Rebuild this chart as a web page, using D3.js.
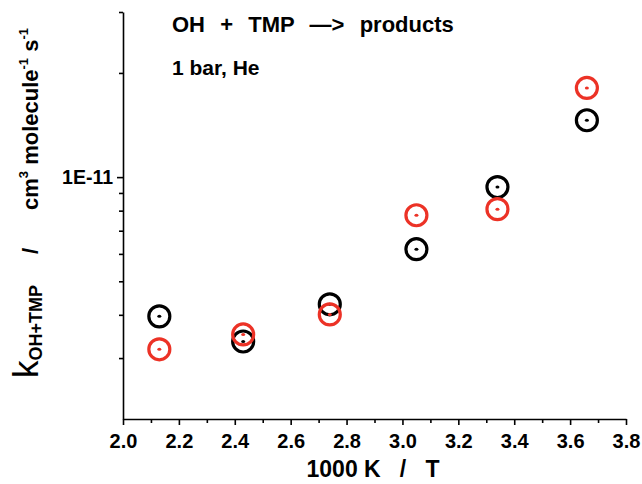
<!DOCTYPE html>
<html><head><meta charset="utf-8">
<script src="https://cdn.jsdelivr.net/npm/d3@7"></script>
<style>body{margin:0;background:#fff;} text{font-family:Arial,"Liberation Sans",sans-serif;}</style>
</head><body>
<svg id="c" width="642" height="484"></svg>
<script>
// Data
const xValues = [2.13, 2.43, 2.74, 3.05, 3.34, 3.66];
const blackSeries = [3.96e-12, 3.35e-12, 4.29e-12, 6.19e-12, 9.36e-12, 1.46e-11];
const redSeries   = [3.18e-12, 3.51e-12, 4.01e-12, 7.76e-12, 8.08e-12, 1.81e-11];
const xTickLabels = ["2.0","2.2","2.4","2.6","2.8","3.0","3.2","3.4","3.6","3.8"];
const yTickLabels = ["1E-11"];
const yMinorTicks = [3e-12,4e-12,5e-12,6e-12,7e-12,8e-12,9e-12,2e-11,3e-11];
const titleLines = ["OH  +  TMP  \u2014>  products", "1 bar, He"];

const svg = d3.select("#c");
const x = d3.scaleLinear().domain([2.0, 3.8]).range([123, 626]);
const y = d3.scaleLog().domain([2e-12, 3e-11]).range([419, 12]);

// X axis
const xMajor = xTickLabels.map(Number);
const xMinor = d3.range(2.1, 3.8, 0.2);
const gx = svg.append("g").attr("transform", "translate(0,419)");
gx.call(d3.axisBottom(x).tickValues(xMajor).tickFormat((d,i)=>xTickLabels[i]).tickSize(6).tickSizeOuter(0));
gx.append("g").call(d3.axisBottom(x).tickValues(xMinor).tickFormat("").tickSize(4).tickSizeOuter(0))
  .select(".domain").remove();
gx.selectAll("path,line").attr("stroke","#000").attr("stroke-width",1.6);
gx.selectAll("text").attr("font-weight","bold").attr("fill","#000").attr("dy","0.98em")
  .style("font-size","20px");

// Y axis
const gy = svg.append("g").attr("transform", "translate(123,0)");
gy.call(d3.axisLeft(y).tickValues([1e-11]).tickFormat((d,i)=>yTickLabels[i]).tickSize(6).tickSizeOuter(0));
gy.append("g").call(d3.axisLeft(y).tickValues(yMinorTicks).tickFormat("").tickSize(4).tickSizeOuter(0))
  .select(".domain").remove();
gy.selectAll("path,line").attr("stroke","#000").attr("stroke-width",1.6);
gy.selectAll("text").attr("font-weight","bold").attr("fill","#000").attr("x",-10).style("font-size","19.5px");

// Points
function drawSeries(vals, color){
  const g = svg.append("g");
  g.selectAll("circle.o").data(vals).join("circle")
    .attr("cx",(d,i)=>x(xValues[i])).attr("cy",d=>y(d)).attr("r",10.5)
    .attr("fill","none").attr("stroke",color).attr("stroke-width",3.2);
  g.selectAll("ellipse").data(vals).join("ellipse")
    .attr("cx",(d,i)=>x(xValues[i])).attr("cy",d=>y(d)).attr("rx",2).attr("ry",1.5)
    .attr("fill",color);
}
drawSeries(blackSeries, "#000");
drawSeries(redSeries, "#ec3226");

// Title texts
svg.append("text").attr("x",172).attr("y",32).attr("xml:space","preserve").attr("word-spacing",1.5)
  .style("font-size","22px").attr("font-weight","bold").text(titleLines[0]);
svg.append("text").attr("x",172).attr("y",75).attr("xml:space","preserve")
  .style("font-size","21px").attr("font-weight","bold").text(titleLines[1]);

// X label
svg.append("text").attr("x",373).attr("y",477).attr("text-anchor","middle")
  .style("font-size","23px").attr("font-weight","bold").attr("xml:space","preserve").text("1000 K   /   T");

// Y label: k with subscript
const yk = svg.append("text").attr("transform","translate(38,378) rotate(-90)");
yk.append("tspan").style("font-size","35px").text("k");
yk.append("tspan").style("font-size","18px").attr("font-weight","bold").attr("dy",4).text("OH+TMP");
// slash
svg.append("text").attr("transform","translate(38,251) rotate(-90)").attr("text-anchor","middle")
  .style("font-size","22px").attr("font-weight","bold").text("/");
// units
const yu = svg.append("text").attr("transform","translate(38,28) rotate(-90)").attr("text-anchor","end")
  .style("font-size","22px").attr("font-weight","bold").attr("xml:space","preserve");
yu.append("tspan").text("cm");
yu.append("tspan").style("font-size","13px").attr("dy",-10).text("3");
yu.append("tspan").attr("dy",10).text(" molecule");
yu.append("tspan").style("font-size","13px").attr("dy",-10).text("-1");
yu.append("tspan").attr("dy",10).text(" s");
yu.append("tspan").style("font-size","13px").attr("dy",-10).text("-1");
</script>
</body></html>
